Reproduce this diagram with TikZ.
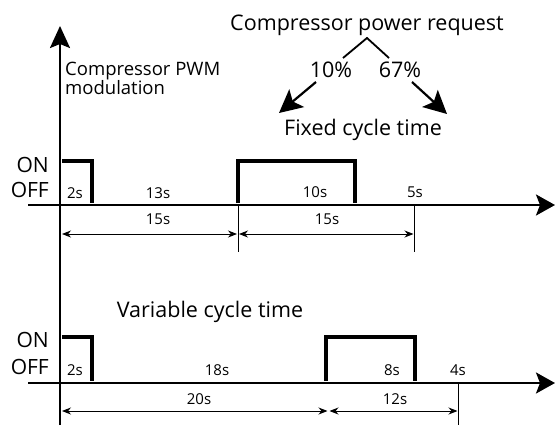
\documentclass[tikz,border=0pt]{standalone}
\usepackage{fontspec}
\setmainfont{Open Sans}
\usetikzlibrary{arrows.meta}
\begin{document}
\begin{tikzpicture}[x=1pt,y=-1pt,
  axis/.style={line width=2.4pt},
  pulse/.style={line width=4pt, line join=miter},
  dim/.style={line width=0.9pt,{Stealth[length=9pt,width=7pt]}-{Stealth[length=9pt,width=7pt]}},
  tickline/.style={line width=0.9pt},
  small/.style={font=\fontsize{15}{15}\selectfont, inner sep=0pt, anchor=base},
  mid/.style={font=\fontsize{18.5}{18.5}\selectfont, inner sep=0pt, anchor=base west},
  onoff/.style={font=\fontsize{21}{21}\selectfont, inner sep=0pt, anchor=base east},
  big/.style={font=\fontsize{21.5}{21.5}\selectfont, inner sep=0pt, anchor=base},
  bigarrow/.style={line width=2.2pt,-{Stealth[length=23pt,width=23pt,inset=5pt]}},
]
\useasboundingbox (0,0) rectangle (555,426);

% axes
\coordinate (ybot) at (60,425);
\coordinate (ytop) at (60,26);
\draw[axis,-{Stealth[length=22pt,width=20pt,inset=4pt]}] (ybot) -- (ytop);
\coordinate (t1l) at (28,205);
\coordinate (t1r) at (555,205);
\draw[axis,-{Stealth[length=19pt,width=21pt,inset=4pt]}] (t1l) -- (t1r);
\coordinate (t2l) at (28,383);
\coordinate (t2r) at (555,383);
\draw[axis,-{Stealth[length=19pt,width=21pt,inset=4pt]}] (t2l) -- (t2r);

% top texts
\node[big] (req) at (367,30) {Compressor power request};
\node[big] (p10) at (331,77) {10\%};
\node[big] (p67) at (400,77) {67\%};
\node[big] (fixed) at (363,135) {Fixed cycle time};
\node[mid] (pwm1) at (65,75) {Compressor PWM};
\node[mid] (pwm2) at (65,94) {modulation};
\coordinate (c1) at (343,58);
\coordinate (c2) at (367,38);
\coordinate (c3) at (389,58);
\draw[line width=1.8pt] (c1) -- (c2) -- (c3);
\coordinate (a1s) at (316,82);
\coordinate (a1e) at (279,113);
\coordinate (a2s) at (412,82);
\coordinate (a2e) at (447,114);
\draw[bigarrow] (a1s) -- (a1e);
\draw[bigarrow] (a2s) -- (a2e);

% fixed cycle
\node[onoff] (on1) at (49,172) {ON};
\node[onoff] (off1) at (49,197) {OFF};
\draw[pulse] (62,161) -- (92,161) -- (92,203);
\draw[pulse] (238,203) -- (238,161) -- (355,161) -- (355,203);
\node[small] (s2a) at (75,198) {2s};
\node[small] (s13) at (158,198) {13s};
\node[small] (s10) at (315,197) {10s};
\node[small] (s5) at (415,197) {5s};
\coordinate (k1t) at (238,205);
\coordinate (k1b) at (238,252);
\coordinate (k2t) at (414,205);
\coordinate (k2b) at (414,252);
\draw[tickline] (k1t) -- (k1b);
\draw[tickline] (k2t) -- (k2b);
\coordinate (d1a) at (62,234);
\coordinate (d1b) at (237,234);
\coordinate (d2a) at (239,234);
\coordinate (d2b) at (413.5,234);
\draw[dim] (d1a) -- (d1b);
\draw[dim] (d2a) -- (d2b);
\node[small] (s15a) at (158,224) {15s};
\node[small] (s15b) at (327,224) {15s};

% variable cycle
\node[big] (var) at (210,317) {Variable cycle time};
\node[onoff] (on2) at (49,347) {ON};
\node[onoff] (off2) at (49,374) {OFF};
\draw[pulse] (62,337) -- (92,337) -- (92,381);
\draw[pulse] (326,381) -- (326,337) -- (415,337) -- (415,381);
\node[small] (s2b) at (75,375) {2s};
\node[small] (s18) at (217,375) {18s};
\node[small] (s8) at (392,375) {8s};
\node[small] (s4) at (458,375) {4s};
\coordinate (k3t) at (458,383);
\coordinate (k3b) at (458,425);
\draw[tickline] (k3t) -- (k3b);
\coordinate (d3a) at (62,411);
\coordinate (d3b) at (327.5,411);
\coordinate (d4a) at (329.5,411);
\coordinate (d4b) at (457.5,411);
\draw[dim] (d3a) -- (d3b);
\draw[dim] (d4a) -- (d4b);
\node[small] (s20) at (199,404) {20s};
\node[small] (s12) at (395,404) {12s};
\end{tikzpicture}
\end{document}
